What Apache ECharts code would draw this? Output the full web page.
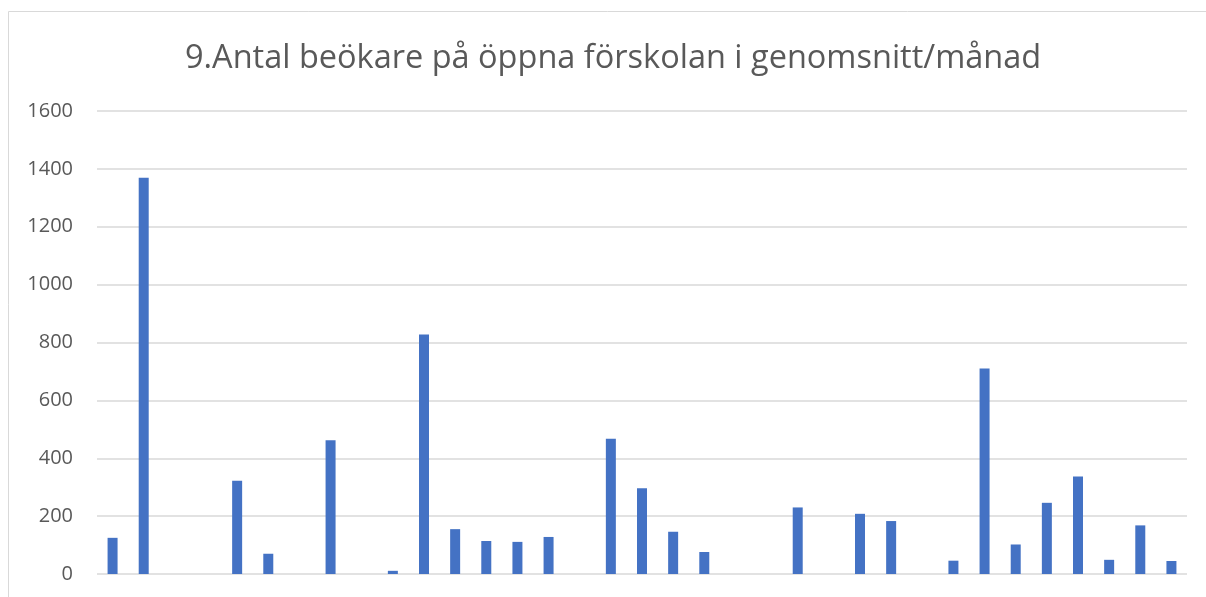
<!DOCTYPE html>
<html>
<head>
<meta charset="utf-8">
<script src="https://cdn.jsdelivr.net/npm/echarts@6/dist/echarts.min.js"></script>
<style>
  html, body { margin: 0; padding: 0; background: #fff; }
  #chart { width: 1206px; height: 597px; }
</style>
</head>
<body>
<div id="chart"></div>
<script>
// 35 kategorier, etiketterna syns inte i bilden
const categories = []
for (let i = 1; i <= 35; i++) categories.push(String(i))

const visitors = [
  125, 1369, 0, 0, 322, 70, 0, 462, 0, 11,
  828, 155, 114, 111, 128, 0, 467, 296, 146, 76,
  0, 0, 230, 0, 208, 183, 0, 46, 710, 102,
  246, 337, 49, 168, 45
]

const yTicks = { min: 0, max: 1600, interval: 200 }

const chart = echarts.init(document.getElementById('chart'))
chart.setOption({
  animation: false,
  title: {
    text: '9.Antal beökare på öppna förskolan i genomsnitt/månad',
    left: 180,
    top: 37,
    textStyle: {
      fontFamily: 'Open Sans',
      fontWeight: 'normal',
      fontSize: 32.5,
      color: '#595959'
    }
  },
  graphic: [{
    type: 'rect',
    shape: { x: 8.5, y: 11.5, width: 1300, height: 700 },
    style: { fill: 'none', stroke: '#d9d9d9', lineWidth: 1 },
    silent: true
  }],
  grid: { left: 97, right: 19, top: 111, bottom: 23 },
  xAxis: {
    type: 'category',
    data: categories,
    axisLine: { show: false },
    axisTick: { show: false },
    axisLabel: { show: false }
  },
  yAxis: {
    type: 'value',
    min: yTicks.min,
    max: yTicks.max,
    interval: yTicks.interval,
    axisLabel: {
      color: '#595959',
      fontSize: 20,
      margin: 24,
      fontFamily: 'Open Sans',
      formatter: v => String(v)
    },
    splitLine: { lineStyle: { color: '#d9d9d9', width: 1.5 } }
  },
  series: [{
    type: 'bar',
    data: visitors,
    barWidth: 10,
    itemStyle: { color: '#4472c4' }
  }]
})
</script>
</body>
</html>
